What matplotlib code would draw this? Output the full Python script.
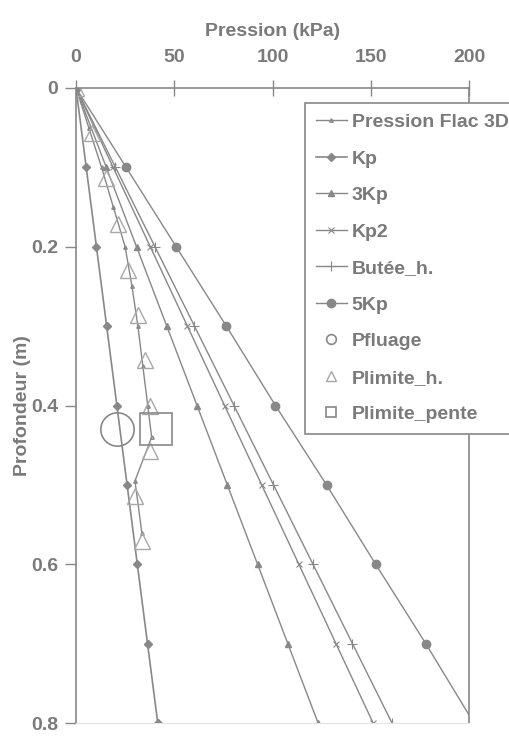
import matplotlib
matplotlib.use('Agg')
import matplotlib.pyplot as plt

# depths (m) for the analytic pressure lines
depth = [0, 0.1, 0.2, 0.3, 0.4, 0.5, 0.6, 0.7, 0.8]
kp = [0, 5.2, 10.4, 15.6, 20.8, 26.0, 31.2, 36.4, 41.6]
kp3 = [0, 15.4, 30.8, 46.2, 61.6, 77.0, 92.4, 107.8, 123.2]
kp2 = [0, 18.9, 37.8, 56.7, 75.6, 94.5, 113.4, 132.3, 151.2]
butee_h = [0, 20.1, 40.2, 60.3, 80.4, 100.5, 120.6, 140.7, 160.8]
kp5 = [0, 25.5, 51.0, 76.5, 101.5, 127.5, 152.5, 178.0, 202.5]

# Flac 3D numerical curve
flac_depth = [0, 0.05, 0.1, 0.15, 0.2, 0.25, 0.3, 0.35, 0.4, 0.44, 0.495, 0.56]
flac_p = [0, 6.5, 13, 19, 25, 28.5, 31.5, 34, 36.5, 38.5, 30, 33.5]

# limit pressures
plim_h_depth = [0, 0.057, 0.114, 0.171, 0.229, 0.286, 0.343, 0.4, 0.457, 0.514, 0.571]
plim_h_p = [0, 8, 15.5, 21.5, 26.6, 31.7, 35, 37.7, 37.7, 30, 33.4]
pfluage_depth = [0.43]
pfluage_p = [21]
plim_pente_depth = [0.43]
plim_pente_p = [40.5]

grey = '#888888'
light = '#a8a8a8'
txt = '#7a7a7a'

plt.rcParams['font.family'] = ['Liberation Sans', 'DejaVu Sans']
plt.rcParams['font.weight'] = 'bold'
plt.rcParams['axes.labelweight'] = 'bold'
plt.rcParams['font.size'] = 14

fig = plt.figure(figsize=(5.09, 7.37), dpi=100)
ax = fig.add_axes([76/509, 1-723/737, (469-76)/509, (723-88)/737])

ax.plot(flac_p, flac_depth, '-^', color=grey, lw=1.0, ms=2.5, mfc='none', label='Pression Flac 3D')
ax.plot(kp, depth, '-D', color=grey, lw=1.2, ms=4, label='Kp')
ax.plot(kp3, depth, '-^', color=grey, lw=1.0, ms=5, label='3Kp')
ax.plot(kp2, depth, '-x', color=grey, lw=1.0, ms=5, mew=0.8, label='Kp2')
ax.plot(butee_h, depth, '-+', color=grey, lw=1.0, ms=7, mew=0.8, label='Butée_h.')
ax.plot(kp5, depth, '-o', color=grey, lw=1.0, ms=6, label='5Kp')
ax.plot(pfluage_p, pfluage_depth, 'o', color=grey, ms=24, mfc='none', mew=1.2, label='Pfluage')
ax.plot(plim_h_p, plim_h_depth, '^', color=light, ms=11, mfc='none', mew=1.0, label='Plimite_h.')
ax.plot(plim_pente_p, plim_pente_depth, 's', color=grey, ms=23, mfc='none', mew=1.2, label='Plimite_pente')

ax.set_xlim(0, 200)
ax.set_ylim(0.8, 0)
ax.set_xticks([0, 50, 100, 150, 200])
ax.set_yticks([0, 0.2, 0.4, 0.6, 0.8])
ax.set_yticklabels(['0', '0.2', '0.4', '0.6', '0.8'])
ax.xaxis.tick_top()
ax.xaxis.set_label_position('top')
ax.tick_params(axis='x', direction='inout', length=12, width=1, color=grey, labelcolor=txt, pad=10)
ax.tick_params(axis='y', direction='out', length=8, width=1, color=grey, labelcolor=txt, pad=5)
for s in ['top', 'left', 'right']:
    ax.spines[s].set_color(grey)
    ax.spines[s].set_linewidth(1.2)
ax.spines['bottom'].set_color('#e4e4e4')

ax.set_xlabel('Pression (kPa)', color=txt, labelpad=9)
ax.set_ylabel('Profondeur (m)', color=txt)
ax.yaxis.set_label_coords(-0.115, 0.5)

leg = ax.legend(loc='upper left', bbox_to_anchor=(305/509, 1-103/737), bbox_transform=fig.transFigure,
                frameon=True, fancybox=False, edgecolor=grey, framealpha=1, labelcolor=txt,
                handlelength=1.6, handletextpad=0.25, labelspacing=0.97, borderpad=0.55, borderaxespad=0)
leg.get_frame().set_linewidth(1.2)
for h in leg.legend_handles:
    if h.get_markersize() > 10:
        h.set_markersize(7)

fig.savefig('out.png', dpi=100)
